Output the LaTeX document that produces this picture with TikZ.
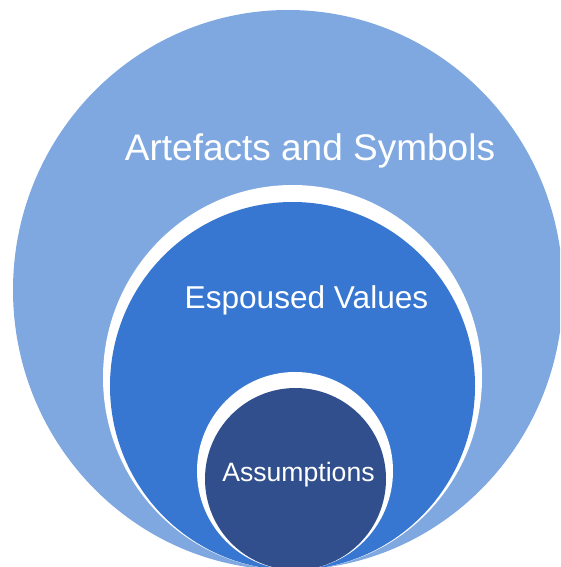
\documentclass[tikz,border=0pt]{standalone}
\usepackage{fontspec}
\setmainfont{Liberation Sans}
\usepackage{tikz}
\usetikzlibrary{positioning}

\definecolor{artblue}{HTML}{7FA8E1}
\definecolor{valblue}{HTML}{3777D1}
\definecolor{assblue}{HTML}{304F8C}

\tikzset{
    layer/.style={fill=#1},
    gap/.style={fill=white},
    layertext/.style={text=white, anchor=base, inner sep=0pt}
}

\begin{document}
\begin{tikzpicture}[x=1pt, y=-1pt]
    \useasboundingbox (0,0) rectangle (560,567);
    \clip (0,0) rectangle (560,567);

    % outer layer
    \fill [layer=artblue] (288,290) ellipse [x radius=275pt, y radius=280pt];

    % middle layer with white rim
    \fill [gap] (292.5,377.5) ellipse [x radius=189.5pt, y radius=192.5pt];
    \fill [layer=valblue] (292.5,386) ellipse [x radius=182.5pt, y radius=184pt];

    % inner layer with white rim
    \fill [gap] (295,471) ellipse [x radius=98pt, y radius=99pt];
    \fill [layer=assblue] (295.5,479) ellipse [x radius=90.5pt, y radius=91pt];

    % labels
    \node [layertext, font=\fontsize{37}{40}\selectfont] (artefacts) at (310,160) {Artefacts and Symbols};
    \node [layertext, font=\fontsize{31.6}{34}\selectfont] (values) at (306.5,308) {Espoused Values};
    \node [layertext, font=\fontsize{26.6}{30}\selectfont] (assumptions) at (298.5,481) {Assumptions};
\end{tikzpicture}
\end{document}
